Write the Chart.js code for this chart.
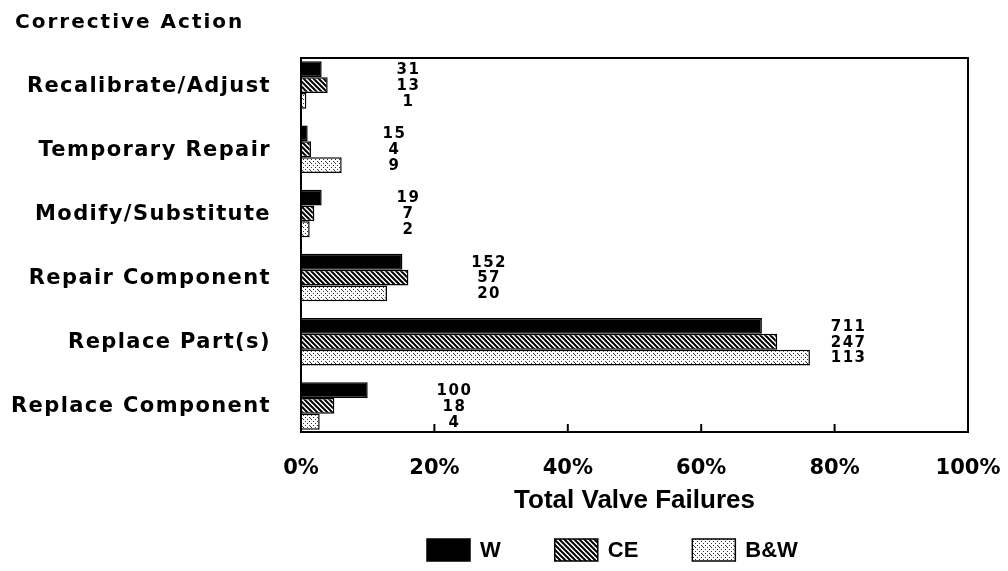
<!DOCTYPE html>
<html lang="en">
<head>
  <meta charset="UTF-8">
  <title>Corrective Action - Total Valve Failures</title>
  <script src="https://cdn.jsdelivr.net/npm/chart.js"></script>
  <style>
    html, body { margin: 0; padding: 0; background: #fff; }
    .chart-box { position: relative; width: 1008px; height: 571px; }
  </style>
</head>
<body>
  <div class="chart-box">
    <canvas id="valveChart"></canvas>
  </div>

  <script>
    // categories and values (percent of each vendor's total)
    const categories = ['Recalibrate/Adjust', 'Temporary Repair', 'Modify/Substitute',
                        'Repair Component', 'Replace Part(s)', 'Replace Component'];
    const seriesNames = ['W', 'CE', 'B&W'];
    const wPct  = [3.1, 1.0, 3.1, 15.2, 69.1, 10.0];
    const cePct = [4.0, 1.5, 2.0, 16.1, 71.4, 5.0];
    const bwPct = [0.8, 6.1, 1.3, 12.9, 76.3, 2.8];
    // counts printed beside the bars
    const wCount  = [31, 15, 19, 152, 711, 100];
    const ceCount = [13, 4, 7, 57, 247, 18];
    const bwCount = [1, 9, 2, 20, 113, 4];
    const xTicks = [0, 20, 40, 60, 80, 100];

    // fill patterns
    function hatchPattern() {
      const c = document.createElement('canvas');
      c.width = 5; c.height = 5;
      const g = c.getContext('2d');
      g.fillStyle = '#fff';
      g.fillRect(0, 0, 5, 5);
      g.strokeStyle = '#000';
      g.lineWidth = 2;
      g.beginPath();
      g.moveTo(-1, -1); g.lineTo(6, 6);
      g.moveTo(-1, 4); g.lineTo(1, 6);
      g.moveTo(4, -1); g.lineTo(6, 1);
      g.stroke();
      return g.createPattern(c, 'repeat');
    }
    function dotPattern() {
      const c = document.createElement('canvas');
      c.width = 8; c.height = 8;
      const g = c.getContext('2d');
      g.fillStyle = '#fff';
      g.fillRect(0, 0, 8, 8);
      g.fillStyle = '#333';
      [[1, 1], [5, 1], [3, 3], [7, 3], [1, 5], [5, 5], [3, 7], [7, 7], [6, 2]]
        .forEach(p => g.fillRect(p[0], p[1], 1, 1));
      return g.createPattern(c, 'repeat');
    }

    const fills = ['#000', hatchPattern(), dotPattern()];
    const counts = [wCount, ceCount, bwCount];

    // custom drawing: frame, ticks, category labels, counts, titles, legend
    const decor = {
      id: 'decor',
      afterDraw(chart) {
        const ctx = chart.ctx;
        const a = chart.chartArea;
        const x = chart.scales.x;
        const y = chart.scales.y;
        // the frame sits a little inside the category band
        const top = a.top + 5;
        const bottom = a.bottom - 6;
        ctx.save();

        ctx.strokeStyle = '#000';
        ctx.lineWidth = 2;
        ctx.strokeRect(a.left, top, a.right - a.left, bottom - top);
        // inward ticks on bottom
        xTicks.slice(1, -1).forEach(v => {
          const px = x.getPixelForValue(v);
          ctx.beginPath();
          ctx.moveTo(px, bottom);
          ctx.lineTo(px, bottom - 8);
          ctx.stroke();
        });

        ctx.fillStyle = '#000';
        // header
        ctx.font = 'bold 20px "DejaVu Sans"';
        ctx.letterSpacing = '2px';
        ctx.textAlign = 'left';
        ctx.textBaseline = 'middle';
        ctx.fillText('Corrective Action', 15, 23);

        // category labels
        ctx.font = 'bold 21px "DejaVu Sans"';
        ctx.letterSpacing = '1.4px';
        ctx.textAlign = 'right';
        categories.forEach((c, i) => {
          ctx.fillText(c, 271, y.getPixelForValue(i) + 1);
        });

        // counts beside the bars
        ctx.font = 'bold 15px "DejaVu Sans"';
        ctx.letterSpacing = '1.5px';
        ctx.textAlign = 'center';
        chart.data.datasets.forEach((ds, d) => {
          const meta = chart.getDatasetMeta(d);
          meta.data.forEach((bar, i) => {
            const px = x.getPixelForValue(wPct[i] + 13);
            ctx.fillText(String(counts[d][i]), px, bar.y + 1);
          });
        });

        // axis title
        ctx.letterSpacing = '0px';
        ctx.font = 'bold 26px "Liberation Sans"';
        ctx.fillText('Total Valve Failures', (a.left + a.right) / 2, 501);

        // legend
        ctx.font = 'bold 22px "Liberation Sans"';
        ctx.textAlign = 'left';
        let lx = 427;
        const ly = 550;
        seriesNames.forEach((name, d) => {
          ctx.fillStyle = fills[d];
          ctx.fillRect(lx, ly - 11, 43, 22);
          ctx.strokeStyle = '#000';
          ctx.lineWidth = 1.5;
          ctx.strokeRect(lx, ly - 11, 43, 22);
          ctx.fillStyle = '#000';
          ctx.fillText(name, lx + 53, ly + 1);
          lx += 53 + ctx.measureText(name).width + 54;
        });

        ctx.restore();
      }
    };

    const ctx = document.getElementById('valveChart').getContext('2d');
    new Chart(ctx, {
      type: 'bar',
      data: {
        labels: categories,
        datasets: [wPct, cePct, bwPct].map((vals, d) => ({
          label: seriesNames[d],
          data: vals,
          backgroundColor: fills[d],
          borderColor: '#000',
          borderWidth: 1.5,
          categoryPercentage: 0.74,
          barPercentage: 1.0
        }))
      },
      options: {
        indexAxis: 'y',
        responsive: true,
        maintainAspectRatio: false,
        animation: false,
        layout: { padding: { left: 301, top: 53, right: 40, bottom: 0 } },
        plugins: {
          legend: { display: false },
          tooltip: { enabled: false }
        },
        scales: {
          x: {
            min: 0,
            max: 100,
            afterBuildTicks: s => { s.ticks = xTicks.map(v => ({ value: v })); },
            afterFit: s => {
              s.height = 133;
              s.paddingLeft = 0;
              s.paddingRight = 0;
            },
            grid: { display: false, drawTicks: false },
            border: { display: false },
            ticks: {
              padding: 18,
              color: '#000',
              maxRotation: 0,
              font: { family: 'DejaVu Sans', size: 21, weight: 'bold' },
              callback: v => v + '%'
            }
          },
          y: {
            display: false,
            grid: { display: false }
          }
        }
      },
      plugins: [decor]
    });
  </script>
</body>
</html>
